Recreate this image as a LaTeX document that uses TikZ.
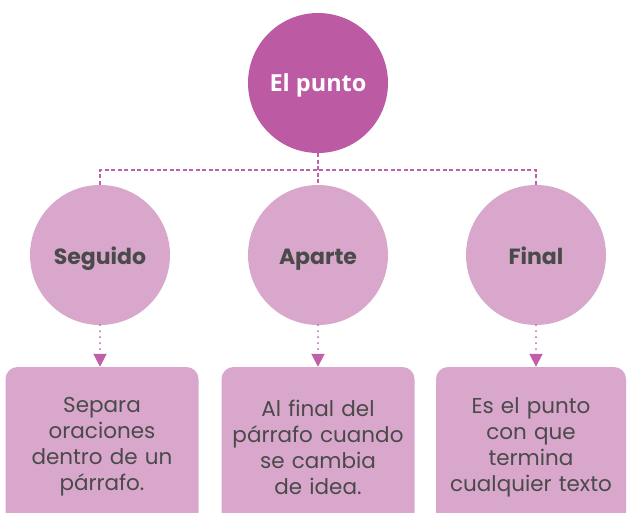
\documentclass[tikz,border=0pt]{standalone}
\usepackage{fontspec}
\setmainfont{Poppins}
\newfontfamily\titulofont{Open Sans}
\usetikzlibrary{arrows.meta}

\definecolor{moradofuerte}{HTML}{BC5BA3}
\definecolor{moradoclaro}{HTML}{D8A7CB}
\definecolor{lineamorada}{HTML}{C160A9}
\definecolor{textogris}{HTML}{4A4A4A}

\tikzset{
  principal/.style={circle, fill=moradofuerte, minimum size=140pt, inner sep=0pt,
    text height=19pt, text depth=2pt,
    text=white, font=\titulofont\bfseries\fontsize{23.5}{26}\selectfont},
  tipo/.style={circle, fill=moradoclaro, minimum size=140pt, inner sep=0pt,
    text height=20pt, text depth=1pt,
    text=textogris, font=\bfseries\fontsize{22}{26}\selectfont},
  caja/.style={rectangle, rounded corners=12pt, fill=moradoclaro, minimum width=193pt,
    minimum height=160pt, inner sep=0pt, text width=186pt, align=center,
    text=textogris, font=\fontsize{21.5}{26}\selectfont},
  rama/.style={lineamorada, line width=1.1pt, dash pattern=on 4pt off 2.5pt},
  flecha/.style={lineamorada, line width=2pt, line cap=round, dash pattern=on 0pt off 6pt,
    -{Triangle[width=13pt,length=13pt]}}
}

\begin{document}
\begin{tikzpicture}[x=1pt, y=-1pt]
    \useasboundingbox (0,0) rectangle (627,513);

    % Círculo principal
    \node[principal] (punto) at (318,83) {El punto};

    % Tipos de punto
    \node[tipo] (seguido) at (100,255) {Seguido};
    \node[tipo] (aparte) at (318,255) {Aparte};
    \node[tipo] (final) at (536,255) {Final};

    % Cajas con la explicación
    \node[caja] (cajaseguido) at (102,447) {Separa\\oraciones\\dentro de un\\párrafo.};
    \node[caja] (cajaaparte) at (318,447) {Al final del\\párrafo cuando\\se cambia\\de idea.};
    \node[caja, minimum width=190pt] (cajafinal) at (531,447) {Es el punto\\con que\\termina\\cualquier texto};

    % Líneas discontinuas
    \coordinate (barra) at (318,170);
    \draw[rama] (punto.south) -- (aparte.north);
    \draw[rama] (seguido.north) -- (seguido.north |- barra) -- (final.north |- barra) -- (final.north);

    % Flechas punteadas
    \draw[flecha] (seguido.south) -- (seguido.south |- cajaseguido.north);
    \draw[flecha] (aparte.south) -- (aparte.south |- cajaaparte.north);
    \draw[flecha] (final.south) -- (final.south |- cajafinal.north);
\end{tikzpicture}
\end{document}
